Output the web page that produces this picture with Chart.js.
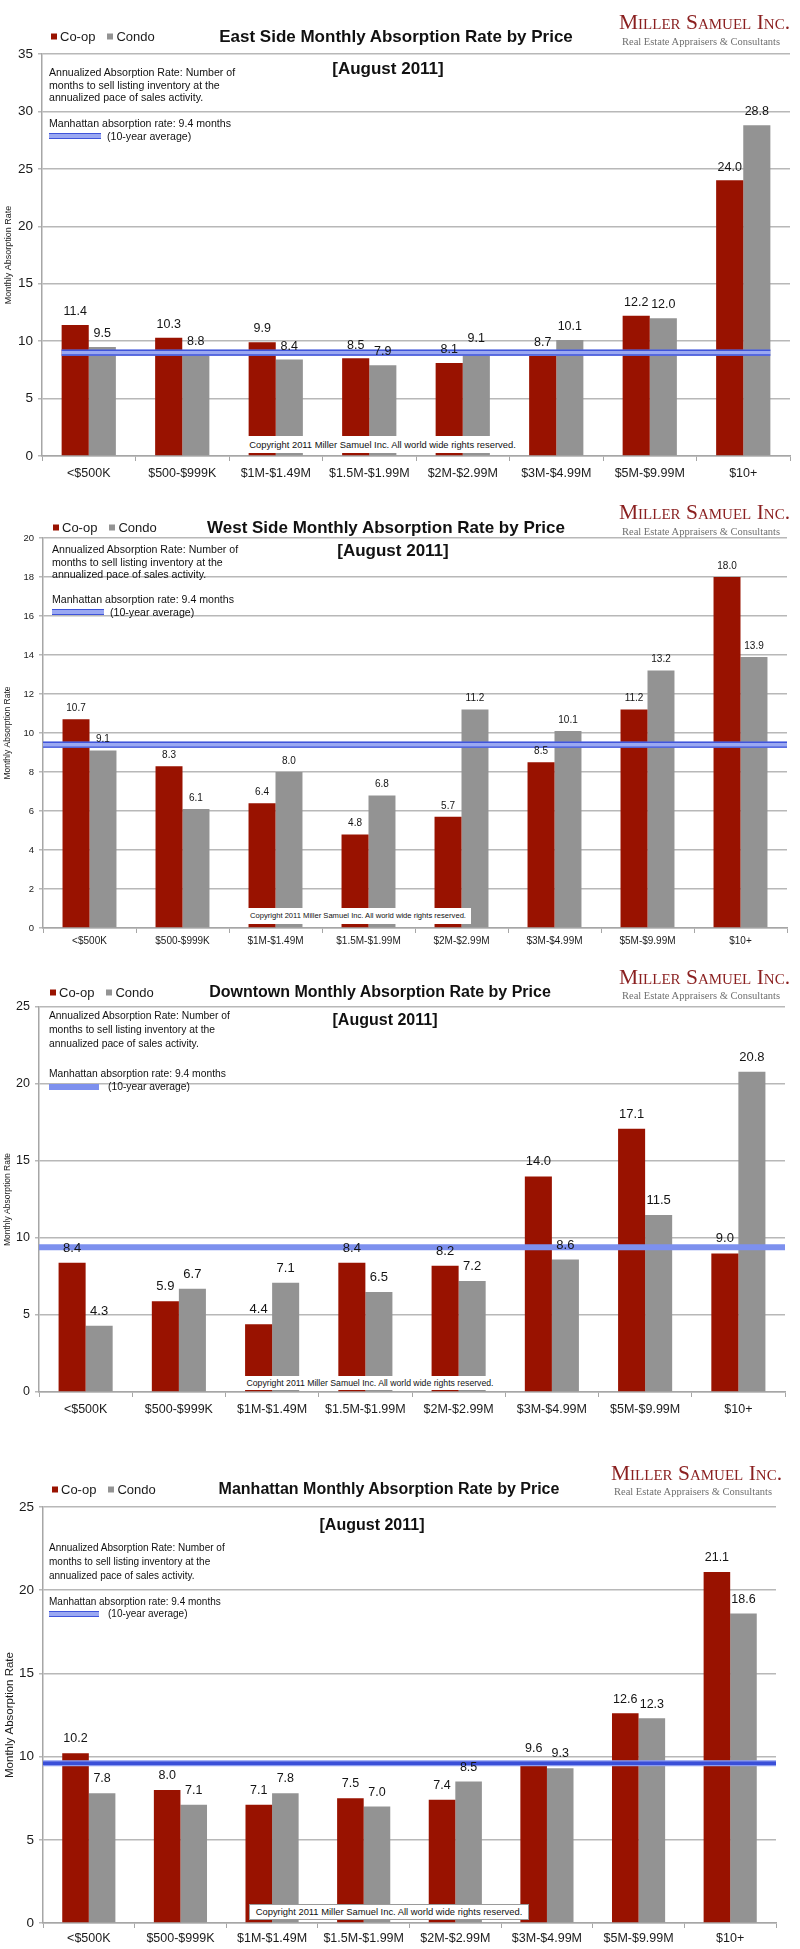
<!DOCTYPE html>
<html><head><meta charset="utf-8">
<script src="https://cdn.jsdelivr.net/npm/chart.js@4.4.1/dist/chart.umd.min.js"></script>
<style>
html,body{margin:0;padding:0;background:#fff;}
body{position:relative;width:800px;height:1949px;overflow:hidden;font-family:"Liberation Sans",Arial,sans-serif;color:#111;}
.panel{position:absolute;left:0;width:800px;}
.panel canvas{position:absolute;left:0;top:0;}
.t{position:absolute;white-space:nowrap;line-height:1;}
.sq{display:inline-block;width:6px;height:6px;margin-right:3px;vertical-align:middle;position:relative;top:-1px;}
.lg{position:absolute;white-space:nowrap;line-height:1;transform:translateY(-50%);color:#1a1a1a;}
.lg .item{margin-right:12px;}
.logo1{font-family:"Liberation Serif","Times New Roman",serif;font-variant:small-caps;color:#8a1f1f;}
.logo2{font-family:"Liberation Serif","Times New Roman",serif;color:#6f6f6f;}
.copy{position:absolute;background:#fff;white-space:nowrap;line-height:1;display:flex;align-items:center;justify-content:center;color:#111;box-sizing:border-box;}
.avg{position:absolute;height:6px;transform:translateY(-50%);box-sizing:border-box;}
.avg.double{background:#9aa8f2;border-top:1.5px solid #3f54da;border-bottom:1.5px solid #3f54da;}
.avg.solid{background:#7d90ee;}
</style></head><body>
<script>
// ---------- data ----------
const categories = ['<$500K','$500-$999K','$1M-$1.49M','$1.5M-$1.99M','$2M-$2.99M','$3M-$4.99M','$5M-$9.99M','$10+'];
const chartTitles = ['East Side Monthly Absorption Rate by Price','West Side Monthly Absorption Rate by Price','Downtown Monthly Absorption Rate by Price','Manhattan Monthly Absorption Rate by Price'];
const seriesNames = ['Co-op','Condo'];
const eastCoop   = [11.4, 10.3, 9.9, 8.5, 8.1, 8.7, 12.2, 24.0];
const eastCondo  = [9.5, 8.8, 8.4, 7.9, 9.1, 10.1, 12.0, 28.8];
const westCoop   = [10.7, 8.3, 6.4, 4.8, 5.7, 8.5, 11.2, 18.0];
const westCondo  = [9.1, 6.1, 8.0, 6.8, 11.2, 10.1, 13.2, 13.9];
const downCoop   = [8.4, 5.9, 4.4, 8.4, 8.2, 14.0, 17.1, 9.0];
const downCondo  = [4.3, 6.7, 7.1, 6.5, 7.2, 8.6, 11.5, 20.8];
const manCoop    = [10.2, 8.0, 7.1, 7.5, 7.4, 9.6, 12.6, 21.1];
const manCondo   = [7.8, 7.1, 7.8, 7.0, 8.5, 9.3, 12.3, 18.6];
const avgLine    = [9.0, 9.4, 9.4, 9.6];   // drawn level of the 10-year average line
const yMax       = [35, 20, 25, 25];
const yStep      = [5, 2, 5, 5];
const subtitle   = '[August 2011]';
const yTitle     = 'Monthly Absorption Rate';
const noteLines  = ['Annualized Absorption Rate: Number of','months to sell listing inventory at the','annualized pace of sales activity.'];
const noteRate   = 'Manhattan absorption rate: 9.4 months';
const noteAvg    = '(10-year average)';
const copyText   = 'Copyright 2011 Miller Samuel Inc.  All world wide rights reserved.';
const logoName   = 'Miller Samuel Inc.';
const logoSub    = 'Real Estate Appraisers & Consultants';

const COOP_COLOR = '#991200';
const CONDO_COLOR = '#939393';
const FONT = '"Liberation Sans", Arial, sans-serif';

// ---------- layout / style per panel ----------
const panels = [
  { top:0, h:487, coop:eastCoop, condo:eastCondo, avg:avgLine[0], max:yMax[0], step:yStep[0], title:chartTitles[0],
    area:{top:54,bottom:456,left:42,right:790}, xH:26, xPad:5, xFont:12.5, yFont:13.5, yTitleFont:9, labelFont:12.5, labelGap:7,
    line:{from:-0.29, to:7.29, style:'double'},
    legend:{x:51,y:36,font:13}, titleC:{x:396,y:36,font:17}, sub:{x:388,y:68,font:17},
    logo:{x:619,y1:23,y2:42,f1:21.5,f2:10.5}, note:{x:49,ys:[72,85,97],font:10.6,rateY:123,avgY:136,avgW:52,avgTextX:107},
    copy:{left:243,top:436,w:279,h:17,font:9.4,border:false} },
  { top:487, h:487, coop:westCoop, condo:westCondo, avg:avgLine[1], max:yMax[1], step:yStep[1], title:chartTitles[1],
    area:{top:51,bottom:441,left:43,right:787}, xH:24, xPad:2, xFont:10, yFont:9.5, yTitleFont:8.5, labelFont:10, labelGap:6,
    line:{from:-0.5, to:7.5, style:'double'},
    legend:{x:53,y:40,font:13}, titleC:{x:386,y:40,font:17}, sub:{x:393,y:63,font:17},
    logo:{x:619,y1:26,y2:45,f1:21.5,f2:10.5}, note:{x:52,ys:[62,75,87],font:10.6,rateY:112,avgY:125,avgW:52,avgTextX:110},
    copy:{left:245,top:421,w:226,h:16,font:7.6,border:false} },
  { top:974, h:487, coop:downCoop, condo:downCondo, avg:avgLine[2], max:yMax[2], step:yStep[2], title:chartTitles[2],
    area:{top:33,bottom:418,left:39,right:785}, xH:26, xPad:5, xFont:12.5, yFont:12.5, yTitleFont:8.5, labelFont:13, labelGap:8,
    line:{from:-0.5, to:7.5, style:'solid'},
    legend:{x:50,y:18,font:13}, titleC:{x:380,y:18,font:16}, sub:{x:385,y:46,font:16},
    logo:{x:619,y1:4,y2:22,f1:21.5,f2:10.5}, note:{x:49,ys:[42,56,70],font:10.3,rateY:100,avgY:113,avgW:50,avgTextX:108},
    copy:{left:241,top:402,w:258,h:14,font:8.7,border:false} },
  { top:1461, h:488, coop:manCoop, condo:manCondo, avg:avgLine[3], max:yMax[3], step:yStep[3], title:chartTitles[3],
    area:{top:46,bottom:462,left:43,right:776}, xH:24, xPad:3, xFont:12.5, yFont:13.5, yTitleFont:11.5, labelFont:12.5, labelGap:8,
    line:{from:-0.5, to:7.5, style:'strong'},
    legend:{x:52,y:28,font:13}, titleC:{x:389,y:28,font:16}, sub:{x:372,y:64,font:16},
    logo:{x:611,y1:13,y2:31,f1:21.5,f2:10.5}, note:{x:49,ys:[87,101,115],font:10,rateY:141,avgY:153,avgW:50,avgTextX:108},
    copy:{left:249,top:443,w:280,h:16,font:9.4,border:true} }
];

// ---------- average line plugin (drawn through the chart's own scales) ----------
const averageLine = {
  id:'averageLine',
  afterDatasetsDraw(chart, args, o) {
    const xs = chart.scales.x, ys = chart.scales.y;
    const c0 = xs.getPixelForValue(0), step = xs.getPixelForValue(1) - c0;
    const x0 = c0 + o.from * step, x1 = c0 + o.to * step;
    const yp = ys.getPixelForValue(o.value);
    const ctx = chart.ctx;
    const seg = (color, w, dy) => {
      ctx.strokeStyle = color; ctx.lineWidth = w;
      ctx.beginPath(); ctx.moveTo(x0, yp + dy); ctx.lineTo(x1, yp + dy); ctx.stroke();
    };
    ctx.save();
    ctx.lineCap = 'butt';
    if (o.style === 'double') {
      seg('#9aa8f2', 6, 0);
      seg('#3f54da', 1.4, -2.4);
      seg('#3f54da', 1.4, 2.4);
    } else if (o.style === 'solid') {
      seg('#7d90ee', 6, 0);
    } else {
      seg('#8c9cf0', 6, 0);
      seg('#3a4fd8', 3.5, 0);
    }
    ctx.restore();
  }
};

// ---------- value label plugin ----------
const valueLabels = {
  id:'valueLabels',
  afterDatasetsDraw(chart, args, opts) {
    const ctx = chart.ctx;
    ctx.save();
    ctx.font = opts.size + 'px ' + FONT;
    ctx.fillStyle = '#141414';
    ctx.textAlign = 'center';
    ctx.textBaseline = 'bottom';
    [0,1].forEach(di => {
      const meta = chart.getDatasetMeta(di);
      meta.data.forEach((el, i) => {
        const v = chart.data.datasets[di].data[i];
        ctx.fillText(v.toFixed(1), el.x, el.y - opts.gap);
      });
    });
    ctx.restore();
  }
};

function addText(parent, txt, cls, css) {
  const d = document.createElement('div');
  d.className = cls || 't';
  d.textContent = txt;
  Object.assign(d.style, css);
  parent.appendChild(d);
  return d;
}

panels.forEach((p) => {
  const panel = document.createElement('div');
  panel.className = 'panel';
  panel.style.top = p.top + 'px';
  panel.style.height = p.h + 'px';
  document.body.appendChild(panel);
  const cv = document.createElement('canvas');
  cv.width = 800; cv.height = p.h;
  cv.style.width = '800px'; cv.style.height = p.h + 'px';
  panel.appendChild(cv);

  new Chart(cv.getContext('2d'), {
    type: 'bar',
    data: {
      labels: categories,
      datasets: [
        {label:seriesNames[0], data:p.coop, backgroundColor:COOP_COLOR, borderWidth:0, categoryPercentage:0.58, barPercentage:1.0},
        {label:seriesNames[1], data:p.condo, backgroundColor:CONDO_COLOR, borderWidth:0, categoryPercentage:0.58, barPercentage:1.0}
      ]
    },
    options: {
      responsive:false, animation:false,
      layout:{padding:{top:p.area.top, bottom:p.h - p.area.bottom - p.xH, left:0, right:800 - p.area.right}},
      plugins:{legend:{display:false}, title:{display:false}, tooltip:{enabled:false},
               averageLine:{value:p.avg, from:p.line.from, to:p.line.to, style:p.line.style},
               valueLabels:{size:p.labelFont, gap:p.labelGap}},
      scales:{
        x:{type:'category', position:'bottom', offset:true,
           grid:{display:true, drawOnChartArea:false, offset:true, tickLength:5, color:'#a6a6a6', lineWidth:1},
           border:{display:true, color:'#a6a6a6', width:1.5},
           ticks:{font:{family:FONT, size:p.xFont}, color:'#1a1a1a', padding:p.xPad, maxRotation:0, autoSkip:false},
           afterFit(s){ s.height = p.xH; }},
        y:{type:'linear', position:'left', min:0, max:p.max,
           ticks:{stepSize:p.step, font:{family:FONT, size:p.yFont}, color:'#1a1a1a', padding:5},
           grid:{color:'#b8b8b8', lineWidth:1.5, tickLength:4},
           border:{display:true, color:'#a6a6a6', width:1.5},
           title:{display:true, text:yTitle, font:{family:FONT, size:p.yTitleFont}, color:'#1a1a1a', padding:{top:3, bottom:0}},
           afterFit(s){ s.width = p.area.left; }}
      }
    },
    plugins:[averageLine, valueLabels]
  });

  // legend (HTML)
  const lg = document.createElement('div');
  lg.className = 'lg';
  lg.style.left = p.legend.x + 'px';
  lg.style.top = p.legend.y + 'px';
  lg.style.fontSize = p.legend.font + 'px';
  [[seriesNames[0], COOP_COLOR], [seriesNames[1], CONDO_COLOR]].forEach(([name, col]) => {
    const it = document.createElement('span'); it.className = 'item';
    const sq = document.createElement('span'); sq.className = 'sq'; sq.style.background = col;
    it.appendChild(sq); it.appendChild(document.createTextNode(name));
    lg.appendChild(it);
  });
  panel.appendChild(lg);

  // titles
  addText(panel, p.title, 't', {left:p.titleC.x+'px', top:p.titleC.y+'px', transform:'translate(-50%,-50%)', fontSize:p.titleC.font+'px', fontWeight:'bold', color:'#111'});
  addText(panel, subtitle, 't', {left:p.sub.x+'px', top:p.sub.y+'px', transform:'translate(-50%,-50%)', fontSize:p.sub.font+'px', fontWeight:'bold', color:'#111'});

  // logo
  addText(panel, logoName, 't logo1', {left:p.logo.x+'px', top:p.logo.y1+'px', transform:'translateY(-50%)', fontSize:p.logo.f1+'px'});
  addText(panel, logoSub, 't logo2', {left:(p.logo.x+3)+'px', top:p.logo.y2+'px', transform:'translateY(-50%)', fontSize:p.logo.f2+'px'});

  // notes
  noteLines.forEach((ln, i) => addText(panel, ln, 't', {left:p.note.x+'px', top:p.note.ys[i]+'px', transform:'translateY(-50%)', fontSize:p.note.font+'px', color:'#111'}));
  addText(panel, noteRate, 't', {left:p.note.x+'px', top:p.note.rateY+'px', transform:'translateY(-50%)', fontSize:p.note.font+'px', color:'#111'});
  const av = document.createElement('div'); av.className = 'avg ' + (p.line.style === 'solid' ? 'solid' : 'double');
  av.style.left = p.note.x + 'px'; av.style.top = p.note.avgY + 'px'; av.style.width = p.note.avgW + 'px';
  panel.appendChild(av);
  addText(panel, noteAvg, 't', {left:p.note.avgTextX+'px', top:p.note.avgY+'px', transform:'translateY(-50%)', fontSize:p.note.font+'px', color:'#111'});

  // copyright box
  const cp = addText(panel, copyText, 'copy', {left:p.copy.left+'px', top:p.copy.top+'px', width:p.copy.w+'px', height:p.copy.h+'px', fontSize:p.copy.font+'px'});
  if (p.copy.border) cp.style.border = '1px solid #9a9a9a';
});
</script>
</body></html>
